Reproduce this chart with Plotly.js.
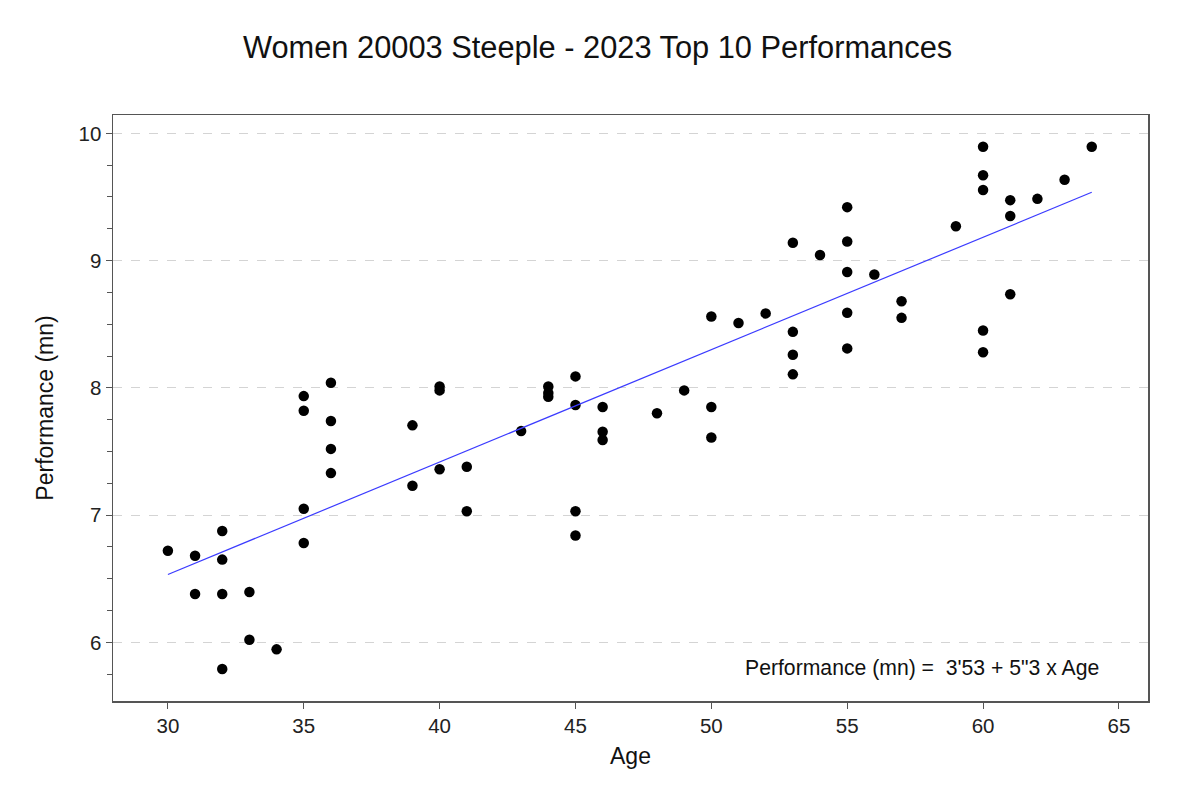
<!DOCTYPE html>
<html>
<head>
<meta charset="utf-8">
<script src="https://cdn.plot.ly/plotly-3.0.1.min.js"></script>
<style>html,body{margin:0;padding:0;background:#fff;}#chart{width:1200px;height:794px;}</style>
</head>
<body>
<div id="chart"></div>
<script>
// Age of athlete
var ages = [30,31,31,32,32,32,32,33,33,34,
            35,35,35,35,36,36,36,36,39,39,
            40,40,40,41,41,43,44,44,44,45,
            45,45,45,46,46,46,48,49,50,50,
            50,51,52,53,53,53,53,54,55,55,
            55,55,55,56,57,57,59,60,60,60,
            60,60,61,61,61,62,63,64];
// Performance in minutes
var performances = [6.72,6.68,6.38,6.875,6.65,6.38,5.79,6.395,6.02,5.945,
                    7.935,7.82,7.05,6.78,8.04,7.74,7.52,7.33,7.705,7.23,
                    8.01,7.98,7.36,7.38,7.03,7.66,8.01,7.96,7.93,8.09,
                    7.865,7.03,6.84,7.85,7.655,7.59,7.80,7.98,8.56,7.85,
                    7.61,8.51,8.585,9.14,8.44,8.26,8.106,9.044,9.42,9.15,
                    8.91,8.59,8.31,8.89,8.68,8.55,9.27,9.895,9.67,9.555,
                    8.45,8.28,9.475,9.35,8.735,9.485,9.635,9.895];
// Regression: 3'53 + 5"3 x Age (minutes)
var interceptMin = 3 + 53/60;
var slopeMin = 5.3/60;
var xTicks = [30,35,40,45,50,55,60,65];
var yTicks = [6,7,8,9,10];

var minAge = Math.min.apply(null, ages);
var maxAge = Math.max.apply(null, ages);
var fitX = [minAge, maxAge];
var fitY = fitX.map(function(a){ return interceptMin + slopeMin * a; });

var traces = [
  {x: ages, y: performances, type: 'scatter', mode: 'markers',
   marker: {color: '#000000', size: 10.5}, hoverinfo: 'x+y', showlegend: false},
  {x: fitX, y: fitY, type: 'scatter', mode: 'lines',
   line: {color: '#3b3bff', width: 1.2}, showlegend: false}
];

var layout = {
  width: 1200, height: 794,
  paper_bgcolor: '#ffffff', plot_bgcolor: '#ffffff',
  margin: {l: 113, r: 52, t: 115, b: 93},
  font: {family: 'Liberation Sans, Arial, sans-serif', color: '#222222'},
  title: {text: 'Women 20003 Steeple - 2023 Top 10 Performances',
          font: {size: 30.8, color: '#111111'}, x: 0.498, xanchor: 'center', y: 0.94, yanchor: 'middle'},
  xaxis: {
    range: [27.98, 66.07], tickvals: xTicks, ticktext: xTicks.map(String),
    ticks: 'outside', ticklen: 6, tickcolor: '#555555', tickwidth: 1,
    showgrid: false, zeroline: false,
    showline: true, mirror: true, linecolor: '#555555', linewidth: 1.5,
    tickfont: {size: 20.5, color: '#222222'},
    title: {text: 'Age', font: {size: 23, color: '#111111'}, standoff: 12}
  },
  yaxis: {
    range: [5.539, 10.144], tickvals: yTicks, ticktext: yTicks.map(String),
    ticks: 'outside', ticklen: 6, tickcolor: '#555555', tickwidth: 1,
    showgrid: true, gridcolor: '#d4d4d4', griddash: 'dash', gridwidth: 1,
    zeroline: false,
    showline: true, mirror: true, linecolor: '#555555', linewidth: 1.5,
    minor: {dtick: 0.25, ticks: 'outside', ticklen: 5, tickcolor: '#555555', showgrid: false},
    tickfont: {size: 20.5, color: '#222222'},
    title: {text: 'Performance (mn)', font: {size: 23, color: '#111111'}, standoff: 18}
  },
  annotations: [{
    xref: 'paper', yref: 'paper', x: 0.955, y: 0.0563,
    xanchor: 'right', yanchor: 'middle', showarrow: false,
    text: 'Performance (mn) =&nbsp;&nbsp;3\'53 + 5"3 x Age',
    font: {size: 21.2, color: '#111111'}
  }]
};

Plotly.newPlot('chart', traces, layout, {displayModeBar: false, staticPlot: true});
</script>
</body>
</html>
